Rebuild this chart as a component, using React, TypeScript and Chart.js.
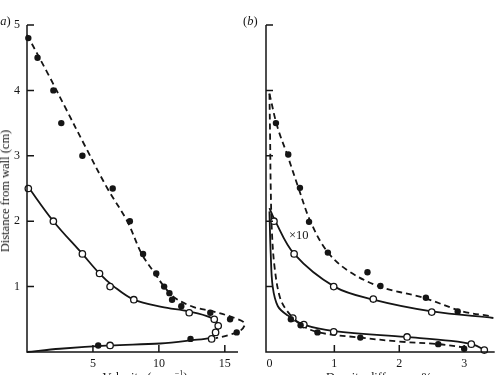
import React, { useEffect, useRef } from "react";
import { Chart, registerables } from "chart.js";

Chart.register(...registerables);

// ---------- Panel (a): velocity ----------
const velFilled: [number, number][] = [
  [0.1, 4.8], [0.8, 4.5], [2.0, 4.0], [2.6, 3.5], [4.2, 3.0], [6.5, 2.5], [7.8, 2.0],
  [8.8, 1.5], [9.8, 1.2], [10.4, 1.0], [10.8, 0.9], [11.0, 0.8], [11.7, 0.7],
  [13.9, 0.6], [15.4, 0.5], [16.6, 0.4], [15.9, 0.3], [12.4, 0.2], [5.4, 0.1],
];
const velOpen: [number, number][] = [
  [0.1, 2.5], [2.0, 2.0], [4.2, 1.5], [5.5, 1.2], [6.3, 1.0], [8.1, 0.8],
  [12.3, 0.6], [14.2, 0.5], [14.5, 0.4], [14.3, 0.3], [14.0, 0.2], [6.3, 0.1],
];
const velDashedCurve: [number, number][] = [
  [0, 4.85], [1.6, 4.25], [3.0, 3.7], [4.4, 3.15], [6.1, 2.5], [7.6, 2.0], [8.7, 1.5],
  [9.7, 1.2], [10.4, 1.0], [11.2, 0.83], [12.6, 0.69], [14.1, 0.62], [15.6, 0.53],
  [16.5, 0.44], [16.2, 0.33], [15.3, 0.26], [14.3, 0.21],
];
const velSolidCurve: [number, number][] = [
  [0, 2.55], [2.0, 2.0], [4.2, 1.5], [5.5, 1.2], [6.6, 1.0], [8.1, 0.8], [10.2, 0.69],
  [12.3, 0.62], [13.9, 0.53], [14.5, 0.42], [14.4, 0.31], [13.9, 0.22], [12.5, 0.18],
  [10.1, 0.13], [6.3, 0.1], [2.5, 0.05], [0, 0],
];
const velXTicks = [5, 10, 15];
const distYTicks = [1, 2, 3, 4, 5];

// ---------- Panel (b): density difference ----------
const denUpperFilled: [number, number][] = [
  [0.1, 3.5], [0.29, 3.02], [0.47, 2.51], [0.61, 1.99], [0.9, 1.52], [1.51, 1.22],
  [1.71, 1.01], [2.41, 0.83], [2.9, 0.62],
];
const denUpperOpen: [number, number][] = [
  [0.07, 2.0], [0.38, 1.5], [0.99, 1.0], [1.6, 0.81], [2.5, 0.61],
];
const denLowerFilled: [number, number][] = [
  [0.33, 0.5], [0.48, 0.41], [0.74, 0.3], [1.4, 0.22], [2.6, 0.12], [3.0, 0.05],
];
const denLowerOpen: [number, number][] = [
  [0.36, 0.52], [0.53, 0.42], [0.99, 0.31], [2.12, 0.23], [3.11, 0.12], [3.31, 0.03],
];
const denUpperDashedCurve: [number, number][] = [
  [0, 3.95], [0.12, 3.45], [0.28, 3.0], [0.45, 2.5], [0.63, 2.0], [0.88, 1.55],
  [1.2, 1.25], [1.7, 1.0], [2.37, 0.83], [2.98, 0.62], [3.4, 0.55],
];
const denUpperSolidCurve: [number, number][] = [
  [0, 2.2], [0.08, 2.02], [0.38, 1.5], [1.0, 1.0], [1.6, 0.8], [2.5, 0.62], [3.45, 0.52],
];
const denLowerSolidCurve: [number, number][] = [
  [0, 2.15], [0.02, 1.5], [0.05, 1.0], [0.13, 0.7], [0.28, 0.56], [0.53, 0.42],
  [1.0, 0.32], [2.1, 0.23], [2.8, 0.17], [3.15, 0.11], [3.3, 0.04],
];
const denLowerDashedCurve: [number, number][] = [
  [0, 3.95], [0.01, 3.3], [0.02, 2.5], [0.04, 1.8], [0.08, 1.29], [0.16, 0.84],
  [0.27, 0.63], [0.48, 0.42], [0.76, 0.3], [1.4, 0.22], [2.0, 0.16], [2.6, 0.12], [3.0, 0.07],
];
const denXTicks = [0, 1, 2, 3];
const denXTickMarks = [1, 2, 3];

const FONT = "'Liberation Serif', 'DejaVu Serif', serif";
const INK = "#151515";

const pts = (a: [number, number][]) => a.map(([x, y]) => ({ x, y }));

const curve = (data: [number, number][], dashed: boolean) => ({
  data: pts(data),
  showLine: true,
  borderColor: INK,
  borderWidth: 1.8,
  borderDash: dashed ? [6, 4] : [],
  tension: 0.35,
  pointRadius: 0,
  clip: false as const,
  order: 2,
});

const markers = (data: [number, number][], filled: boolean) => ({
  data: pts(data),
  showLine: false,
  pointRadius: 3.2,
  pointBackgroundColor: filled ? INK : "#ffffff",
  pointBorderColor: INK,
  pointBorderWidth: filled ? 0 : 1.3,
  clip: false as const,
  order: 1,
});

function axesPlugin(xMarks: number[], yMarks: number[]) {
  return {
    id: "axesInward",
    afterDatasetsDraw(chart: any) {
      const { ctx, chartArea, scales } = chart;
      const x = scales.x;
      const y = scales.y;
      ctx.save();
      ctx.strokeStyle = INK;
      ctx.lineWidth = 1.5;
      ctx.beginPath();
      ctx.moveTo(chartArea.left, chartArea.top);
      ctx.lineTo(chartArea.left, chartArea.bottom);
      ctx.lineTo(chartArea.right, chartArea.bottom);
      for (const v of yMarks) {
        const py = y.getPixelForValue(v);
        ctx.moveTo(chartArea.left, py);
        ctx.lineTo(chartArea.left + 7, py);
      }
      for (const v of xMarks) {
        const px = x.getPixelForValue(v);
        ctx.moveTo(px, chartArea.bottom);
        ctx.lineTo(px, chartArea.bottom - 7);
      }
      ctx.stroke();
      ctx.restore();
    },
  };
}

function makeConfig(opts: {
  datasets: any[];
  xMin: number;
  xMax: number;
  xTicks: number[];
  xMarks: number[];
  yLabels: boolean;
  yWidth: number;
  rightPad: number;
}) {
  return {
    type: "line" as const,
    data: { datasets: opts.datasets },
    options: {
      animation: false as const,
      responsive: false,
      events: [],
      layout: { padding: { top: 25, right: opts.rightPad, left: 0, bottom: 0 } },
      plugins: { legend: { display: false }, tooltip: { enabled: false } },
      scales: {
        x: {
          type: "linear" as const,
          min: opts.xMin,
          max: opts.xMax,
          grid: { display: false, drawTicks: false },
          border: { display: false },
          afterBuildTicks: (s: any) => {
            s.ticks = opts.xTicks.map((v) => ({ value: v }));
          },
          afterFit: (s: any) => {
            s.height = 23;
          },
          ticks: {
            padding: 5,
            color: INK,
            font: { family: FONT, size: 12 },
            callback: (v: any) => String(v),
            maxRotation: 0,
          },
        },
        y: {
          type: "linear" as const,
          min: 0,
          max: 5,
          grid: { display: false, drawTicks: false },
          border: { display: false },
          afterBuildTicks: (s: any) => {
            s.ticks = distYTicks.map((v) => ({ value: v }));
          },
          afterFit: (s: any) => {
            s.width = opts.yWidth;
          },
          ticks: {
            display: opts.yLabels,
            padding: 7,
            color: INK,
            font: { family: FONT, size: 12 },
            callback: (v: any) => String(v),
          },
        },
      },
    },
    plugins: [axesPlugin(opts.xMarks, distYTicks)],
  };
}

export default function App() {
  const refA = useRef<HTMLCanvasElement>(null);
  const refB = useRef<HTMLCanvasElement>(null);

  useEffect(() => {
    document.body.style.margin = "0";
    const a = new Chart(
      refA.current!,
      makeConfig({
        datasets: [
          curve(velDashedCurve, true),
          curve(velSolidCurve, false),
          markers(velFilled, true),
          markers(velOpen, false),
        ],
        xMin: 0,
        xMax: 16,
        xTicks: velXTicks,
        xMarks: velXTicks,
        yLabels: true,
        yWidth: 27,
        rightPad: 12,
      }) as any
    );
    const b = new Chart(
      refB.current!,
      makeConfig({
        datasets: [
          curve(denUpperDashedCurve, true),
          curve(denUpperSolidCurve, false),
          curve(denLowerDashedCurve, true),
          curve(denLowerSolidCurve, false),
          markers(denUpperFilled, true),
          markers(denUpperOpen, false),
          markers(denLowerFilled, true),
          markers(denLowerOpen, false),
        ],
        xMin: -0.053,
        xMax: 3.47,
        xTicks: denXTicks,
        xMarks: denXTickMarks,
        yLabels: false,
        yWidth: 16,
        rightPad: 3,
      }) as any
    );
    return () => {
      a.destroy();
      b.destroy();
    };
  }, []);

  const txt: React.CSSProperties = {
    position: "absolute",
    fontFamily: FONT,
    fontSize: 12.5,
    color: INK,
    whiteSpace: "nowrap",
    lineHeight: "14px",
  };

  return (
    <div
      style={{
        position: "absolute",
        left: 0,
        top: 0,
        width: 500,
        height: 375,
        overflow: "hidden",
        background: "#fff",
      }}
    >
      <canvas ref={refA} width={250} height={375} style={{ position: "absolute", left: 0, top: 0 }} />
      <canvas ref={refB} width={250} height={375} style={{ position: "absolute", left: 250, top: 0 }} />
      <span style={{ ...txt, left: -4, top: 14 }}>
        (<i>a</i>)
      </span>
      <span style={{ ...txt, left: 243, top: 14 }}>
        (<i>b</i>)
      </span>
      <span style={{ ...txt, left: 289, top: 228 }}>×10</span>
      <span
        style={{
          ...txt,
          left: 5,
          top: 191,
          transform: "translate(-50%, -50%) rotate(-90deg)",
        }}
      >
        Distance from wall (cm)
      </span>
      <span style={{ ...txt, left: 145, top: 370, transform: "translateX(-50%)" }}>
        Velocity (cm s<sup style={{ fontSize: 8, lineHeight: 0 }}>−1</sup>)
      </span>
      <span style={{ ...txt, left: 379, top: 370, transform: "translateX(-50%)" }}>
        Density difference %
      </span>
    </div>
  );
}
